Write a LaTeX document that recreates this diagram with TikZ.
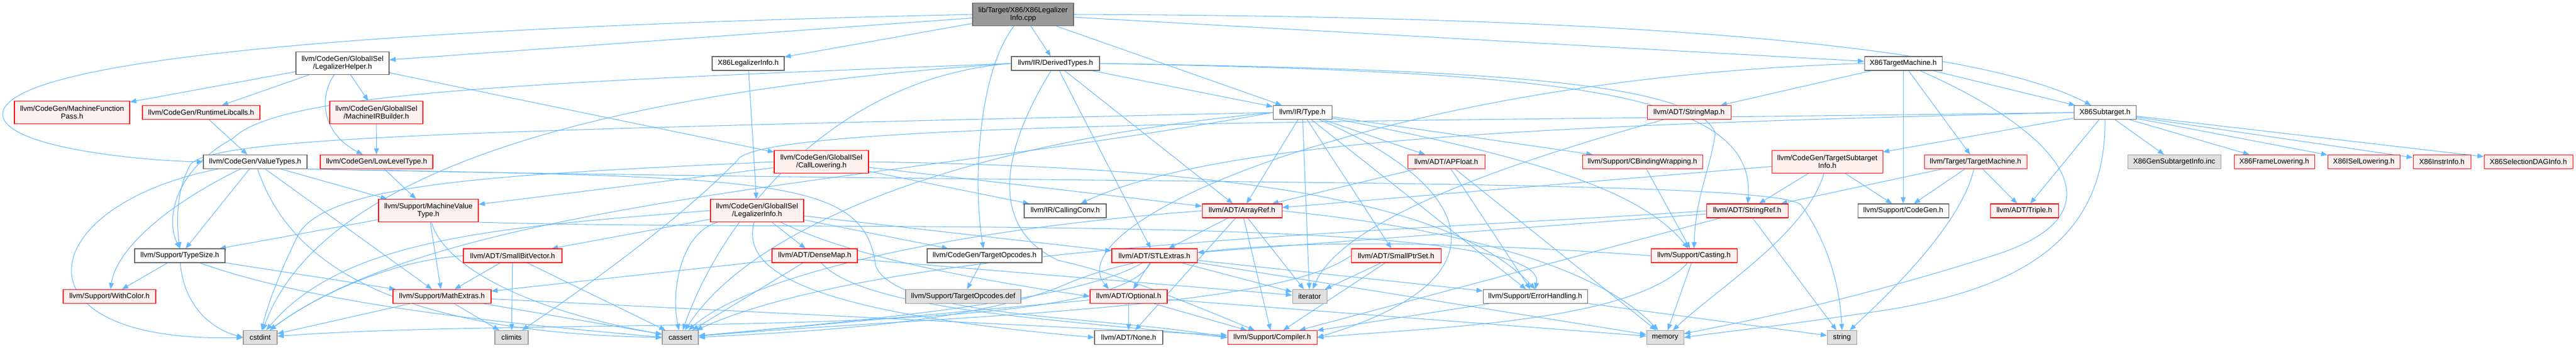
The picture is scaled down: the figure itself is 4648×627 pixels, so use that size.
\documentclass[tikz,border=0pt]{standalone}
\usepackage{fontspec}
\setmainfont{Liberation Sans}
\usetikzlibrary{arrows.meta}
\definecolor{edgeblue}{HTML}{63B8FF}
\definecolor{boxgray}{HTML}{666666}
\definecolor{sysgray}{HTML}{999999}
\definecolor{sysfill}{HTML}{E0E0E0}
\definecolor{redfill}{HTML}{FFF0F0}
\definecolor{rootfill}{HTML}{999999}
\pgfdeclarelayer{bg}
\pgfsetlayers{bg,main}
\begin{document}
\begin{tikzpicture}[x=0.02cm,y=-0.02cm,
    hdr/.style={draw,line width=0.6pt,inner xsep=1pt,inner ysep=0pt,align=center,minimum height=0.5cm,font=\fontsize{7.5}{8}\selectfont},
    two/.style={minimum height=0.82cm},
    bw/.style={minimum width=#1*0.02cm},
    plainhdr/.style={hdr,draw=boxgray,fill=white},
    redhdr/.style={hdr,draw=red,fill=redfill},
    syshdr/.style={hdr,draw=sysgray,fill=sysfill},
    roothdr/.style={hdr,draw=boxgray,fill=rootfill},
    incl/.style={draw=edgeblue,line width=0.6pt,-{Triangle[length=6.5pt,width=5pt]}}]
    \useasboundingbox (0,0) rectangle (4648,627);
    \node[roothdr,bw=182,two] (root) at (1846,26) {lib/Target/X86/X86Legalizer\\Info.cpp};
    \node[plainhdr,bw=168,two] (lhelper) at (618,114) {llvm/CodeGen/GlobalISel\\/LegalizerHelper.h};
    \node[plainhdr,bw=130] (linfoh) at (1350,114.5) {X86LegalizerInfo.h};
    \node[plainhdr,bw=159] (dtypes) at (1904.5,114.5) {llvm/IR/DerivedTypes.h};
    \node[plainhdr,bw=140] (x86tm) at (3434,114.5) {X86TargetMachine.h};
    \node[redhdr,bw=208,two] (mfpass) at (130,203) {llvm/CodeGen/MachineFunction\\Pass.h};
    \node[redhdr,bw=212] (rtlib) at (363,203) {llvm/CodeGen/RuntimeLibcalls.h};
    \node[redhdr,bw=168,two] (mirb) at (679,203) {llvm/CodeGen/GlobalISel\\/MachineIRBuilder.h};
    \node[plainhdr,bw=106] (irtype) at (2350,203) {llvm/IR/Type.h};
    \node[redhdr,bw=151] (smap) at (3047.5,203) {llvm/ADT/StringMap.h};
    \node[plainhdr,bw=112] (x86st) at (3798,203) {X86Subtarget.h};
    \node[plainhdr,bw=187] (vtypes) at (460.5,292) {llvm/CodeGen/ValueTypes.h};
    \node[redhdr,bw=203] (llt) at (679.5,292) {llvm/CodeGen/LowLevelType.h};
    \node[redhdr,bw=170,two] (callow) at (1482,292) {llvm/CodeGen/GlobalISel\\/CallLowering.h};
    \node[redhdr,bw=139] (apfloat) at (2609.5,292) {llvm/ADT/APFloat.h};
    \node[redhdr,bw=217] (cbind) at (2963.5,292) {llvm/Support/CBindingWrapping.h};
    \node[redhdr,bw=200,two] (tsinfo) at (3297,292) {llvm/CodeGen/TargetSubtarget\\Info.h};
    \node[redhdr,bw=185] (tm) at (3564.5,292) {llvm/Target/TargetMachine.h};
    \node[syshdr,bw=168] (gensti) at (3923,292) {X86GenSubtargetInfo.inc};
    \node[redhdr,bw=145] (framelow) at (4103.5,292) {X86FrameLowering.h};
    \node[redhdr,bw=130] (isellow) at (4265,292) {X86ISelLowering.h};
    \node[redhdr,bw=104] (instrinfo) at (4406,292) {X86InstrInfo.h};
    \node[redhdr,bw=160] (seldag) at (4562,292) {X86SelectionDAGInfo.h};
    \node[redhdr,bw=180,two] (mvt) at (773,380) {llvm/Support/MachineValue\\Type.h};
    \node[redhdr,bw=168,two] (linfo) at (1366,380) {llvm/CodeGen/GlobalISel\\/LegalizerInfo.h};
    \node[plainhdr,bw=148] (cconv) at (1922,380.5) {llvm/IR/CallingConv.h};
    \node[redhdr,bw=144] (aref) at (2241,380.5) {llvm/ADT/ArrayRef.h};
    \node[redhdr,bw=147] (sref) at (3152.5,380.5) {llvm/ADT/StringRef.h};
    \node[plainhdr,bw=164] (cgen) at (3434,380.5) {llvm/Support/CodeGen.h};
    \node[redhdr,bw=123] (triple) at (3652.5,380.5) {llvm/ADT/Triple.h};
    \node[plainhdr,bw=163] (tsize) at (324.5,461.5) {llvm/Support/TypeSize.h};
    \node[redhdr,bw=178] (sbv) at (925,461.5) {llvm/ADT/SmallBitVector.h};
    \node[redhdr,bw=154] (dmap) at (1470,461.5) {llvm/ADT/DenseMap.h};
    \node[plainhdr,bw=207] (topc) at (1776.5,461.5) {llvm/CodeGen/TargetOpcodes.h};
    \node[redhdr,bw=154] (stlx) at (2083,461.5) {llvm/ADT/STLExtras.h};
    \node[redhdr,bw=162] (sptr) at (2519,461.5) {llvm/ADT/SmallPtrSet.h};
    \node[redhdr,bw=155] (casting) at (3056.5,461.5) {llvm/Support/Casting.h};
    \node[redhdr,bw=167] (wcolor) at (197.5,535) {llvm/Support/WithColor.h};
    \node[redhdr,bw=177] (mathx) at (797.5,535) {llvm/Support/MathExtras.h};
    \node[syshdr,bw=208] (topcdef) at (1738,535) {llvm/Support/TargetOpcodes.def};
    \node[redhdr,bw=139] (optional) at (2036.5,535) {llvm/ADT/Optional.h};
    \node[syshdr,bw=62] (iterator) at (2363,535) {iterator};
    \node[plainhdr,bw=188] (errh) at (2770,535) {llvm/Support/ErrorHandling.h};
    \node[syshdr,bw=61] (cstdint) at (469.5,609) {cstdint};
    \node[syshdr,bw=60] (climits) at (923,609) {climits};
    \node[syshdr,bw=65] (cassert) at (1227.5,609) {cassert};
    \node[plainhdr,bw=123] (nonehdr) at (2036.5,609) {llvm/ADT/None.h};
    \node[redhdr,bw=161] (compiler) at (2295.5,609) {llvm/Support/Compiler.h};
    \node[syshdr,bw=67] (memory) at (3004.5,609) {memory};
    \node[syshdr,bw=53] (string) at (3323.5,609) {string};
    \begin{pgfonlayer}{bg}
    \draw[incl] (root) -- (linfoh);
    \draw[incl] (root) -- (lhelper);
    \draw[incl] (root.west) .. controls (900,45) and (20,90) .. (5,204) .. controls (0,265) and (250,290) .. (vtypes.west);
    \draw[incl] (root) .. controls (1765,130) and (1755,330) .. (topc);
    \draw[incl] (root) -- (dtypes);
    \draw[incl] (root) -- (irtype);
    \draw[incl] (root) -- (x86tm);
    \draw[incl] (root.east) .. controls (3200,30) and (3620,110) .. (x86st);
    \draw[incl] (lhelper) -- (mfpass);
    \draw[incl] (lhelper) -- (rtlib);
    \draw[incl] (lhelper) -- (mirb);
    \draw[incl] (lhelper) .. controls (575,175) and (580,240) .. (llt);
    \draw[incl] (lhelper) -- (callow);
    \draw[incl] (mirb) -- (llt);
    \draw[incl] (rtlib) -- (vtypes);
    \draw[incl] (llt) -- (mvt);
    \draw[incl] (vtypes) .. controls (60,370) and (10,620) .. (cstdint.west);
    \draw[incl] (vtypes) .. controls (300,370) and (210,450) .. (wcolor);
    \draw[incl] (vtypes) -- (tsize);
    \draw[incl] (vtypes) -- (mathx);
    \draw[incl] (vtypes) -- (mvt);
    \draw[incl] (vtypes) .. controls (520,470) and (700,600) .. (cassert.west);
    \draw[incl] (vtypes.south east) .. controls (1400,320) and (1560,320) .. (1580,480) .. controls (1620,575) and (2000,570) .. (compiler.west);
    \draw[incl] (vtypes.south east) .. controls (2000,335) and (3200,320) .. (3250,370) .. controls (3300,440) and (3320,520) .. (string.north);
    \draw[incl] (mvt) -- (tsize);
    \draw[incl] (mvt) -- (mathx);
    \draw[incl] (mvt) .. controls (800,480) and (950,560) .. (cassert);
    \draw[incl] (mvt.south east) .. controls (1500,420) and (2800,380) .. (errh.north);
    \draw[incl] (tsize) -- (wcolor);
    \draw[incl] (tsize) .. controls (330,540) and (370,590) .. (cstdint.west);
    \draw[incl] (tsize) -- (mathx);
    \draw[incl] (tsize) .. controls (600,560) and (1000,590) .. (cassert.west);
    \draw[incl] (mathx) -- (cstdint);
    \draw[incl] (mathx) -- (climits);
    \draw[incl] (mathx) -- (cassert);
    \draw[incl] (mathx) -- (compiler);
    \draw[incl] (linfoh) -- (linfo);
    \draw[incl] (linfo) -- (sbv);
    \draw[incl] (linfo) -- (dmap);
    \draw[incl] (linfo) -- (topc);
    \draw[incl] (linfo) -- (stlx);
    \draw[incl] (linfo) .. controls (1550,470) and (1800,510) .. (optional.west);
    \draw[incl] (linfo) .. controls (1340,480) and (1420,560) .. (nonehdr.west);
    \draw[incl] (linfo) .. controls (1230,420) and (1210,520) .. (cassert);
    \draw[incl] (linfo.west) .. controls (900,410) and (620,430) .. (cstdint);
    \draw[incl] (callow) -- (mvt);
    \draw[incl] (callow) -- (cconv);
    \draw[incl] (callow) -- (aref);
    \draw[incl] (callow.east) .. controls (2100,300) and (2600,340) .. (errh.north);
    \draw[incl] (callow.west) .. controls (900,315) and (600,330) .. (540,420) .. controls (500,500) and (480,560) .. (cstdint);
    \draw[incl] (sbv) -- (mathx);
    \draw[incl] (sbv) -- (climits);
    \draw[incl] (sbv) -- (cassert);
    \draw[incl] (sbv.west) .. controls (700,470) and (560,540) .. (cstdint);
    \draw[incl] (dmap) -- (mathx);
    \draw[incl] (dmap) -- (cassert);
    \draw[incl] (dmap) .. controls (1560,560) and (1900,575) .. (compiler.west);
    \draw[incl] (dmap) -- (iterator);
    \draw[incl] (topc) -- (topcdef);
    \draw[incl] (dtypes) -- (irtype);
    \draw[incl] (dtypes) -- (aref);
    \draw[incl] (dtypes) -- (stlx);
    \draw[incl] (dtypes.east) .. controls (2800,130) and (3170,160) .. (sref);
    \draw[incl] (dtypes.east) .. controls (2700,125) and (3060,150) .. (3095,240) .. controls (3085,310) and (3060,350) .. (casting.north);
    \draw[incl] (dtypes) .. controls (1790,300) and (1800,420) .. (1910,470) .. controls (2000,490) and (2080,520) .. (compiler);
    \draw[incl] (dtypes.west) .. controls (900,150) and (500,170) .. (420,250) .. controls (310,310) and (300,400) .. (tsize.north);
    \draw[incl] (dtypes.west) .. controls (1500,140) and (1300,400) .. (cassert);
    \draw[incl] (dtypes.west) .. controls (1300,150) and (600,250) .. (cstdint);
    \draw[incl] (irtype) -- (apfloat);
    \draw[incl] (irtype) -- (aref);
    \draw[incl] (irtype) -- (sptr);
    \draw[incl] (irtype) -- (cbind);
    \draw[incl] (irtype) .. controls (2750,280) and (2960,340) .. (casting);
    \draw[incl] (irtype) .. controls (2650,330) and (2740,500) .. (compiler.east);
    \draw[incl] (irtype) -- (errh);
    \draw[incl] (irtype.west) .. controls (900,235) and (400,245) .. (345,295) .. controls (318,340) and (318,400) .. (tsize.north);
    \draw[incl] (irtype.west) .. controls (1700,260) and (1350,420) .. (cassert);
    \draw[incl] (irtype.west) .. controls (1600,330) and (800,360) .. (cstdint);
    \draw[incl] (irtype) -- (iterator);
    \draw[incl] (aref) -- (stlx);
    \draw[incl] (aref) -- (nonehdr);
    \draw[incl] (aref) -- (compiler);
    \draw[incl] (aref) -- (iterator);
    \draw[incl] (aref.east) .. controls (2700,420) and (2900,500) .. (memory);
    \draw[incl] (aref.west) .. controls (1700,415) and (1350,500) .. (cassert);
    \draw[incl] (stlx) -- (optional);
    \draw[incl] (stlx) -- (iterator);
    \draw[incl] (stlx) -- (errh);
    \draw[incl] (stlx) -- (memory);
    \draw[incl] (stlx) .. controls (1950,540) and (1600,575) .. (cassert);
    \draw[incl] (stlx) .. controls (2000,620) and (1000,570) .. (cstdint);
    \draw[incl] (optional) -- (nonehdr);
    \draw[incl] (optional) -- (compiler);
    \draw[incl] (optional) -- (cassert);
    \draw[incl] (optional) -- (memory);
    \draw[incl] (apfloat) -- (aref);
    \draw[incl] (apfloat) -- (errh);
    \draw[incl] (apfloat) -- (memory);
    \draw[incl] (cbind) -- (casting);
    \draw[incl] (sptr) -- (iterator);
    \draw[incl] (sptr) -- (compiler);
    \draw[incl] (sptr.west) .. controls (2300,560) and (1700,570) .. (cassert);
    \draw[incl] (errh) -- (compiler);
    \draw[incl] (errh) -- (string);
    \draw[incl] (casting) .. controls (2950,580) and (2600,590) .. (compiler.east);
    \draw[incl] (casting.west) .. controls (2400,420) and (2100,440) .. (1930,510) .. controls (1750,590) and (1400,600) .. (cassert.east);
    \draw[incl] (casting) -- (memory);
    \draw[incl] (smap) .. controls (2700,300) and (2420,400) .. (iterator);
    \draw[incl] (sref) -- (stlx);
    \draw[incl] (sref) -- (compiler);
    \draw[incl] (sref) -- (string);
    \draw[incl] (sref.west) .. controls (2500,420) and (1600,440) .. (cassert);
    \draw[incl] (x86tm) -- (x86st);
    \draw[incl] (x86tm.west) .. controls (2500,140) and (1900,400) .. (optional.160);
    \draw[incl] (x86tm) -- (smap);
    \draw[incl] (x86tm) -- (cgen);
    \draw[incl] (x86tm) -- (tm);
    \draw[incl] (x86tm) .. controls (3700,230) and (3850,380) .. (3600,460) .. controls (3350,540) and (3150,580) .. (memory);
    \draw[incl] (x86st) -- (gensti);
    \draw[incl] (x86st) -- (framelow);
    \draw[incl] (x86st) -- (isellow);
    \draw[incl] (x86st) -- (instrinfo);
    \draw[incl] (x86st) -- (seldag);
    \draw[incl] (x86st) -- (triple);
    \draw[incl] (x86st) -- (tsinfo);
    \draw[incl] (x86st.west) .. controls (2800,225) and (2200,250) .. (cconv);
    \draw[incl] (x86st.west) .. controls (2600,220) and (1360,215) .. (1330,290) .. controls (1290,330) and (1200,420) .. (climits);
    \draw[incl] (x86st) .. controls (3800,430) and (3650,520) .. (3400,560) .. controls (3200,590) and (3100,600) .. (memory.east);
    \draw[incl] (tsinfo) -- (aref);
    \draw[incl] (tsinfo) -- (sref);
    \draw[incl] (tsinfo) -- (cgen);
    \draw[incl] (tsinfo) .. controls (3260,420) and (3100,520) .. (memory);
    \draw[incl] (tm) -- (sref);
    \draw[incl] (tm) -- (cgen);
    \draw[incl] (tm) -- (triple);
    \draw[incl] (tm) .. controls (3540,400) and (3420,520) .. (string);
    \end{pgfonlayer}
\end{tikzpicture}
\end{document}
